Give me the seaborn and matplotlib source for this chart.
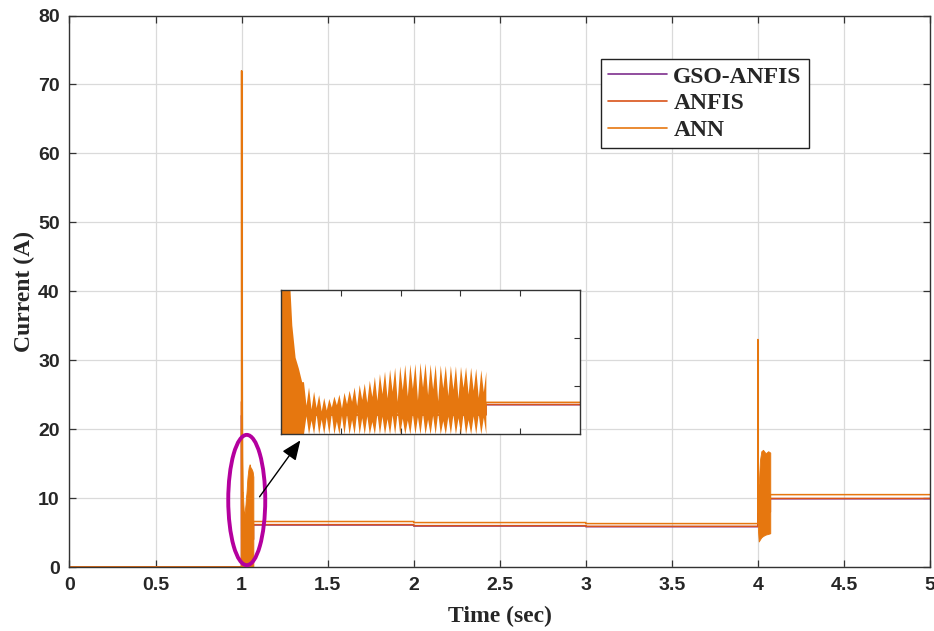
import numpy as np
import pandas as pd
import matplotlib
matplotlib.use('Agg')
import matplotlib.pyplot as plt
import seaborn as sns
from matplotlib.patches import Ellipse
from matplotlib.lines import Line2D

# ---------------- data ----------------
series_names = ['GSO-ANFIS', 'ANFIS', 'ANN']
series_colors = ['#7E2F8E', '#D95319', '#E6770F']

# steady-state current levels for the segments 1.07-2, 2-3, 3-4, 4.07-5 s
gso_levels = [6.1, 5.95, 5.85, 9.9]
anfis_levels = [6.15, 6.0, 5.9, 9.95]
ann_levels = [6.6, 6.45, 6.3, 10.5]
# peak of the inrush spike at t = 1 s and t = 4 s
gso_spikes = [22.0, 16.0]
anfis_spikes = [24.0, 17.0]
ann_spikes = [72.0, 33.0]

# transient burst after t = 1 s (ANN)
b1_decay_t = [1.0, 1.0008, 1.003, 1.0036, 1.0047, 1.0058, 1.0069]
b1_decay_i = [72.0, 45.0, 30.0, 22.7, 16.0, 13.7, 10.9]
b1_start, b1_end = 1.0075, 1.0685
b1_peaks = [10.9, 9.8, 8.9, 8.2, 7.6, 7.4, 7.9, 8.3, 8.7, 9.1, 9.8, 10.3, 10.6,
            11.2, 12.0, 12.6, 13.1, 13.5, 13.9, 14.2, 14.5, 14.6, 14.7, 14.9,
            14.8, 14.6, 14.5, 14.4, 14.3, 14.3, 14.2, 14.1, 14.0, 13.9, 13.7,
            13.4, 13.1]
b1_notches = [6.0, 5.2, 5.5, 4.8, 5.0, 5.6, 6.1, 5.4, 6.3, 6.8, 5.9, 7.2,
              6.6, 7.8, 7.0, 8.4, 7.5, 8.9, 6.8, 9.2, 7.9, 9.5, 7.1, 9.8,
              8.2, 9.4, 6.9, 9.6, 8.0, 9.3, 7.4, 9.7, 8.3, 9.1, 7.6, 8.8]
b1_troughs = [0.0] * 37
b1_bumps = [3.8, 2.9, 4.2, 3.1, 3.6, 4.4, 2.7, 3.9, 4.1, 3.0, 4.5, 3.4,
            3.8, 2.6, 4.3, 3.7, 3.2, 4.0, 4.6, 3.3, 2.9, 4.2, 3.6, 4.4,
            3.1, 3.9, 4.5, 2.8, 3.7, 4.1, 3.4, 4.3, 3.0, 3.8, 4.2, 3.5]

# transient burst after t = 4 s (ANN)
b4_t = [4.0, 4.005, 4.012, 4.02, 4.03, 4.045, 4.06, 4.072]
b4_upper = [12.5, 12.0, 15.5, 16.8, 17.0, 16.5, 16.8, 16.6]
b4_lower = [5.5, 3.7, 4.0, 4.3, 4.5, 4.7, 4.8, 4.9]

x_ticks = [0, 0.5, 1, 1.5, 2, 2.5, 3, 3.5, 4, 4.5, 5]
x_tick_labels = ['0', '0.5', '1', '1.5', '2', '2.5', '3', '3.5', '4', '4.5', '5']
y_ticks = [0, 10, 20, 30, 40, 50, 60, 70, 80]


# ---------------- build the line table ----------------
def series_points(levels, spikes):
    t = [0.0, 1.0, 1.0, 1.001, b1_end, b1_end, 2.0, 2.0, 3.0, 3.0, 4.0,
         4.0, 4.001, b4_t[-1], b4_t[-1], 5.0]
    i = [0.0, 0.0, spikes[0], 4.0, 4.0, levels[0], levels[0], levels[1],
         levels[1], levels[2], levels[2], spikes[1], 8.0, 8.0, levels[3],
         levels[3]]
    return t, i


rows = []
for name, lv, sp in zip(series_names, [gso_levels, anfis_levels, ann_levels],
                        [gso_spikes, anfis_spikes, ann_spikes]):
    t, i = series_points(lv, sp)
    for a, b in zip(t, i):
        rows.append((name, a, b))
df = pd.DataFrame(rows, columns=['series', 't', 'i'])

teeth_t = np.linspace(b1_start, b1_end, 2 * len(b1_peaks) - 1)
up = np.empty(len(teeth_t))
up[0::2] = b1_peaks
up[1::2] = b1_notches
lo = np.empty(len(teeth_t))
lo[0::2] = b1_troughs
lo[1::2] = b1_bumps
# detailed burst (inset)
fill_t = np.concatenate([b1_decay_t, teeth_t])
fill_up = np.concatenate([b1_decay_i, up])
fill_lo = np.concatenate([np.zeros(len(b1_decay_t)), lo])
# envelope only (main axes, where the teeth are below one pixel)
env_t = np.concatenate([b1_decay_t, teeth_t[0::2]])
env_up = np.concatenate([b1_decay_i, b1_peaks])

# ---------------- style ----------------
sns.set_style('ticks')
plt.rcParams['font.family'] = ['Liberation Sans', 'DejaVu Sans']
palette = dict(zip(series_names, series_colors))
serif = ['Liberation Serif', 'DejaVu Serif']

fig = plt.figure(figsize=(9.34, 6.31), dpi=100)
ax = fig.add_axes([0.0744, 0.1014, 0.9213, 0.874])

sns.lineplot(data=df, x='t', y='i', hue='series', hue_order=series_names,
             palette=palette, sort=False, estimator=None, lw=1.1,
             legend=False, ax=ax)
ax.fill_between(env_t, 0, env_up, color=series_colors[2], lw=0.6,
                edgecolor=series_colors[2], zorder=2.5)
ax.fill_between(b4_t, b4_lower, b4_upper, color=series_colors[2], lw=0.6,
                edgecolor=series_colors[2], zorder=2.5)

ax.set_xlim(0, 5)
ax.set_ylim(0, 80)
ax.set_xticks(x_ticks)
ax.set_xticklabels(x_tick_labels)
ax.set_yticks(y_ticks)
ax.grid(True, color='#DADADA', lw=0.9)
ax.set_axisbelow(True)
ax.tick_params(direction='in', top=True, right=True, length=5, width=0.9,
               color='#333333', labelsize=14, pad=7)
for lab in ax.get_xticklabels() + ax.get_yticklabels():
    lab.set_fontweight('bold')
for s in ax.spines.values():
    s.set_color('#333333')
    s.set_linewidth(1.0)
ax.set_xlabel('Time (sec)', family=serif, fontweight='bold', fontsize=17,
              labelpad=9)
ax.set_ylabel('Current (A)', family=serif, fontweight='bold', fontsize=17,
              labelpad=2)

handles = [Line2D([0], [0], color=c, lw=1.2) for c in series_colors]
leg = ax.legend(handles, series_names, loc='upper left',
                bbox_to_anchor=(0.618, 0.921), borderaxespad=0,
                prop=dict(family=serif, weight='bold', size=17),
                frameon=True, fancybox=False, edgecolor='#222222',
                framealpha=1, borderpad=0.3, handlelength=2.5,
                handletextpad=0.25, labelspacing=0.22)
leg.get_frame().set_linewidth(1.0)

ell = Ellipse((1.03, 9.72), width=0.215, height=18.9, fill=False,
              edgecolor='#B4009E', lw=2.8, zorder=4, clip_on=False)
ax.add_patch(ell)
ax.annotate('', xy=(1.351, 18.7), xytext=(1.095, 9.86),
            arrowprops=dict(arrowstyle='-|>,head_length=0.6,head_width=0.25',
                            color='black', lw=1.0, mutation_scale=20),
            zorder=5)

# ---------------- inset ----------------
ins = fig.add_axes([0.3009, 0.3122, 0.3201, 0.2282])
ins.set_facecolor('white')
sns.lineplot(data=df, x='t', y='i', hue='series', hue_order=series_names,
             palette=palette, sort=False, estimator=None, lw=1.1,
             legend=False, ax=ins)
ins.fill_between(fill_t, fill_lo, fill_up, color=series_colors[2], lw=0,
                 zorder=2.5)
ins.set_xlim(1.0, 1.1)
ins.set_ylim(0, 30)
ins.set_xticks([1.02, 1.04, 1.06, 1.08])
ins.set_yticks([10, 20])
ins.set_xticklabels([])
ins.set_yticklabels([])
ins.set_xlabel('')
ins.set_ylabel('')
ins.tick_params(direction='in', top=True, right=True, length=4, width=0.8,
                color='#333333')
for s in ins.spines.values():
    s.set_color('#333333')
    s.set_linewidth(1.0)

fig.savefig('out.png', dpi=100)
